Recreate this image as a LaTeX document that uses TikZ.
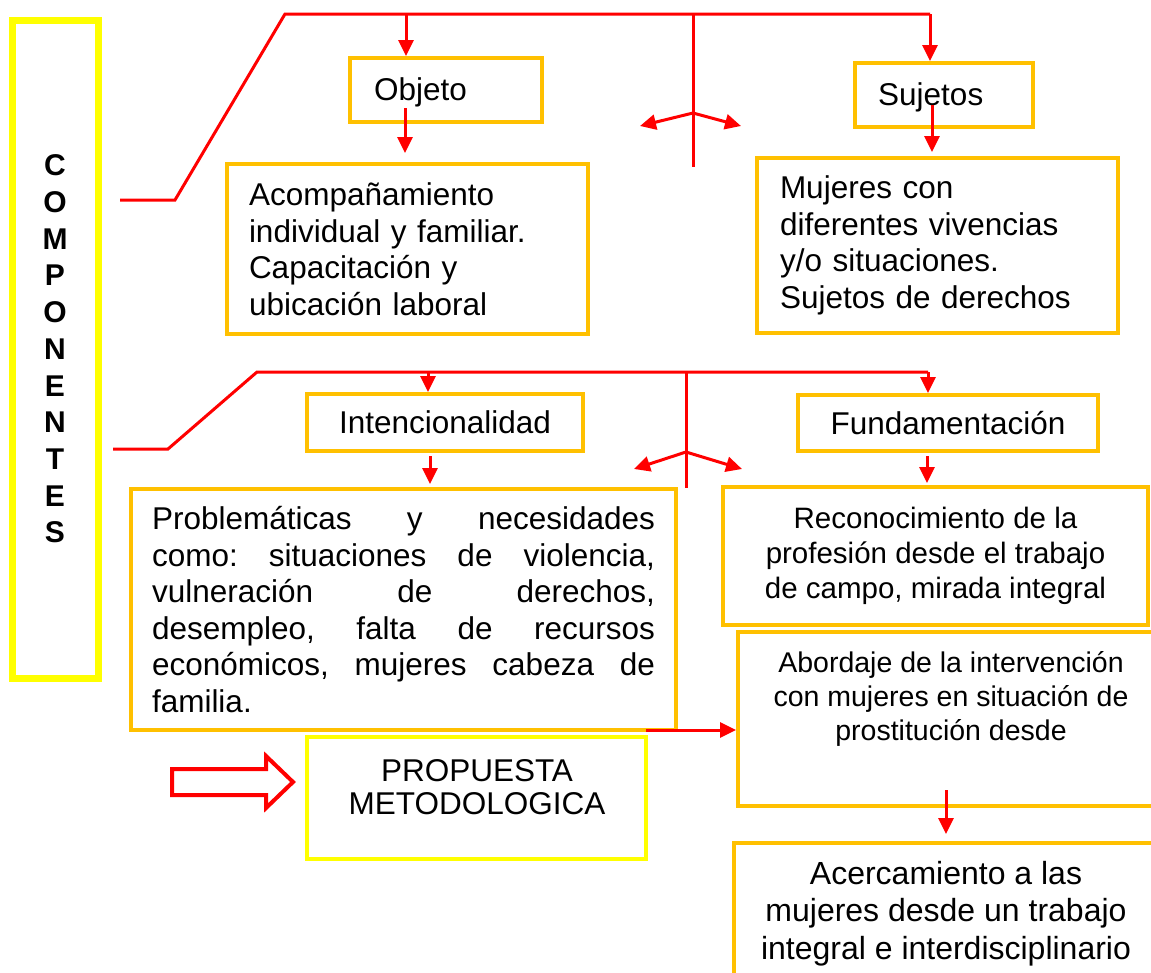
\documentclass[tikz,border=0pt]{standalone}
\usepackage{fontspec}
\setmainfont{Liberation Sans}
\usetikzlibrary{arrows.meta}
\definecolor{org}{HTML}{FFC000}
\definecolor{ylw}{HTML}{FFFF00}
\definecolor{rd}{HTML}{FF0000}
\frenchspacing
\begin{document}
\begin{tikzpicture}[x=1pt,y=-1pt,
  obox/.style={draw=org, line width=4pt, inner sep=0pt, rectangle},
  ybox/.style={draw=ylw, line width=4pt, inner sep=0pt, rectangle},
  conn/.style={draw=rd, line width=3pt},
  arr/.style={draw=rd, line width=3pt, -{Triangle[length=16pt,width=15pt]}},
  big/.style={font=\fontsize{31.5}{36.5}\selectfont},
  mid/.style={font=\fontsize{29.5}{35}\selectfont},
  sml/.style={font=\fontsize{28.5}{34}\selectfont},
]
\useasboundingbox (0,0) rectangle (1151,972);
\clip (0,0) rectangle (1151,972);

% COMPONENTES
\node[ybox, line width=7pt, minimum width=86pt, minimum height=658pt, align=center,
      font=\fontsize{30}{36.7}\selectfont\bfseries] (comp) at (55,349)
  {C\\O\\M\\P\\O\\N\\E\\N\\T\\E\\S};

% upper boxes
\node[obox, minimum width=192pt, minimum height=64pt] (obj) at (446,90) {};
\node[big, anchor=west, inner sep=0pt] (objtxt) at (374,92) {Objeto};
\node[obox, minimum width=178pt, minimum height=64pt] (suj) at (944,95) {};
\node[big, anchor=west, inner sep=0pt] (sujtxt) at (878,97) {Sujetos};
\node[obox, big, minimum width=361pt, minimum height=170pt, text width=317pt, align=left] (acomp) at (407.5,249)
  {Acompañamiento\\individual y familiar.\\Capacitación y\\ubicación laboral};
\node[obox, big, minimum width=361pt, minimum height=175pt, text width=315pt, align=left] (muj) at (937.5,245.5)
  {Mujeres con\\diferentes vivencias\\y/o situaciones.\\Sujetos de derechos};

% middle boxes
\node[obox, big, minimum width=276pt, minimum height=57pt, align=center] (int) at (445,422.5) {Intencionalidad};
\node[obox, big, minimum width=300pt, minimum height=56pt, align=center] (fund) at (948,423) {Fundamentación};
\node[obox, big, minimum width=545pt, minimum height=241pt, text width=503pt, align=left] (prob) at (403.5,609.5)
  {\makebox[503pt][l]{Problemáticas\hfill y\hfill necesidades}\\
   \makebox[503pt][l]{como:\hfill situaciones\hfill de\hfill violencia,}\\
   \makebox[503pt][l]{vulneración\hfill de\hfill derechos,}\\
   \makebox[503pt][l]{desempleo,\hfill falta\hfill de\hfill recursos}\\
   \makebox[503pt][l]{económicos,\hfill mujeres\hfill cabeza\hfill de}\\
   familia.};
\node[obox, mid, minimum width=425pt, minimum height=138pt, align=center] (rec) at (935.5,556)
  {Reconocimiento de la\\profesión desde el trabajo\\de campo, mirada integral};

% lower right boxes
\node[obox, minimum width=426pt, minimum height=174pt] (abo) at (951,719) {};
\node[sml, anchor=north, align=center, inner sep=0pt] (abotxt) at (951,651)
  {Abordaje de la intervención\\con mujeres en situación de\\prostitución desde};
\node[obox, minimum width=424pt, minimum height=160pt] (ace) at (946,923) {};
\node[font=\fontsize{32}{37.5}\selectfont, anchor=north, align=center, inner sep=0pt] (acetxt) at (946,861)
  {Acercamiento a las\\mujeres desde un trabajo\\integral e interdisciplinario};

% propuesta
\node[ybox, minimum width=339pt, minimum height=122pt] (prop) at (476.5,798) {};
\node[font=\fontsize{31.5}{33}\selectfont, anchor=north, align=center, inner sep=0pt] (proptxt) at (477,759)
  {PROPUESTA\\METODOLOGICA};

% hollow arrow
\draw[rd, line width=4pt, line join=miter]
  (172,769) -- (266,769) -- (266,756) -- (293,782) -- (266,808) -- (266,795) -- (172,795) -- cycle;

% upper bracket
\coordinate (a1) at (120,200);
\coordinate (a2) at (175,200);
\coordinate (a3) at (285,14);
\coordinate (a4) at (930,14);
\coordinate (ao) at (406,14);
\coordinate (af) at (693,14);
\coordinate (afb) at (693,167);
\coordinate (afm) at (693,113);
\coordinate (afl) at (640,126);
\coordinate (afr) at (741,126);
\draw[conn, line join=miter] (a1) -- (a2) -- (a3) -- (a4);
\draw[arr] (a4) -- (a4 |- suj.north);
\draw[arr] (ao) -- (ao |- obj.north);
\draw[conn] (af) -- (afb);
\draw[arr] (afm) -- (afl);
\draw[arr] (afm) -- (afr);
\coordinate (o1) at (405,108);
\coordinate (s1) at (932,105);
\draw[arr] (o1) -- ([yshift=9pt]o1 |- acomp.north);
\draw[arr] (s1) -- ([yshift=4pt]s1 |- muj.north);

% lower bracket
\coordinate (b1) at (113,449);
\coordinate (b2) at (168,449);
\coordinate (b3) at (257,372);
\coordinate (b4) at (928,372);
\coordinate (bi) at (428,372);
\coordinate (bf) at (686,372);
\coordinate (bfb) at (686,488);
\coordinate (bfm) at (686,452);
\coordinate (bfl) at (634,469);
\coordinate (bfr) at (742,469);
\draw[conn, line join=miter] (b1) -- (b2) -- (b3) -- (b4);
\draw[arr] (b4) -- (b4 |- fund.north);
\draw[arr] (bi) -- (bi |- int.north);
\draw[conn] (bf) -- (bfb);
\draw[arr] (bfm) -- (bfl);
\draw[arr] (bfm) -- (bfr);
\coordinate (i1) at (430,456);
\coordinate (f1) at (927,456);
\draw[arr] (i1) -- ([yshift=3pt]i1 |- prob.north);
\draw[arr] (f1) -- ([yshift=2pt]f1 |- rec.north);

% to abordaje, to acercamiento
\coordinate (p1) at (646,730);
\draw[arr] (p1) -- (p1 -| abo.west);
\coordinate (ab1) at (946,790);
\draw[arr] (ab1) -- ([yshift=7pt]ab1 |- ace.north);
\end{tikzpicture}
\end{document}
